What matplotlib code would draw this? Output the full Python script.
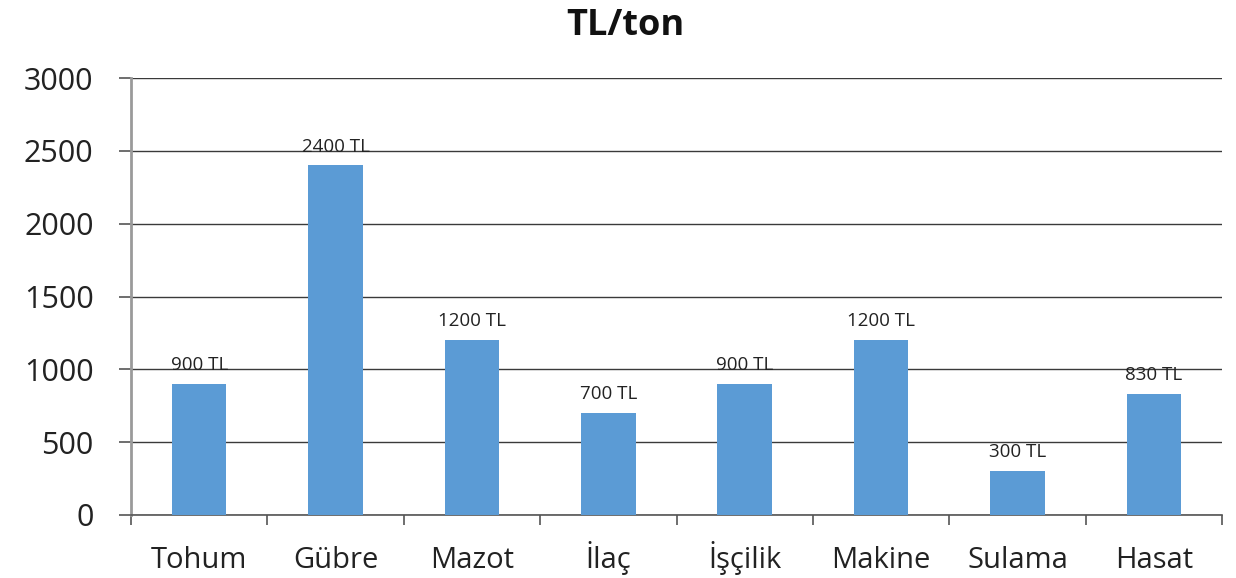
import matplotlib
matplotlib.use("Agg")
import matplotlib.pyplot as plt
import numpy as np

categories = ["Tohum", "Gübre", "Mazot", "İlaç", "İşçilik", "Makine", "Sulama", "Hasat"]
values = [900, 2400, 1200, 700, 900, 1200, 300, 830]
labels = ["900 TL", "2400 TL", "1200 TL", "700 TL", "900 TL", "1200 TL", "300 TL", "830 TL"]
yticks = [0, 500, 1000, 1500, 2000, 2500, 3000]

plt.rcParams['font.family'] = ['Open Sans', 'DejaVu Sans']

fig = plt.figure(figsize=(12.36, 5.78), dpi=100)
ax = fig.add_axes([0.106, 0.109, 0.8827, 0.756])

x = np.arange(len(categories))
ax.bar(x, values, width=0.4, color="#5B9BD5", zorder=3)
for xi, v, lab in zip(x, values, labels):
    ax.text(xi, v + 95, lab, ha="center", va="baseline", fontsize=13.5, color="#222222", zorder=4)

ax.set_xlim(-0.5, len(categories) - 0.5)
ax.set_ylim(0, 3000)
ax.set_yticks(yticks)
ax.set_yticklabels([str(t) for t in yticks], fontsize=22, color="#222222")
ax.yaxis.grid(True, color="#3a3a3a", linewidth=1.0, zorder=0)
ax.set_axisbelow(True)

ax.set_xticks(x)
ax.set_xticklabels([])
ax.tick_params(axis="x", length=0)
for xi, cat in zip(x, categories):
    ax.text(xi, -53 / 437, cat, transform=ax.get_xaxis_transform(), ha="center",
            va="baseline", fontsize=21, color="#222222")
ax.set_xticks(np.arange(-0.5, len(categories) + 0.5, 1), minor=True)
ax.tick_params(axis="x", which="minor", length=7, width=1.2, color="#555555")
ax.tick_params(axis="y", length=9, width=1.2, color="#555555", pad=18)

for s in ["top", "right"]:
    ax.spines[s].set_visible(False)
ax.spines["left"].set_color("#9a9a9a")
ax.spines["left"].set_linewidth(2)
ax.spines["bottom"].set_color("#555555")
ax.spines["bottom"].set_linewidth(1.2)

fig.text(0.506, 1 - 35 / 578, "TL/ton", ha="center", va="baseline", fontsize=26,
         fontweight="bold", color="#111111")

fig.savefig("out.png", dpi=100)
